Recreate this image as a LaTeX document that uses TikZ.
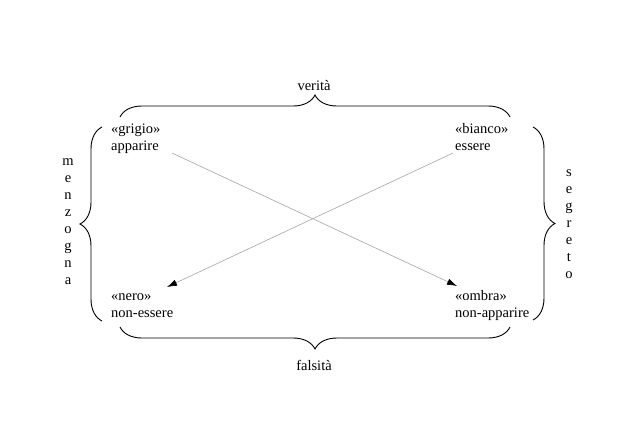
\documentclass[tikz,border=0pt]{standalone}
\usepackage{fontspec}
\setmainfont{Liberation Serif}
\usetikzlibrary{decorations.pathreplacing,arrows.meta}
\begin{document}
\begin{tikzpicture}[x=1pt,y=-1pt,
  every node/.style={inner sep=0pt,font=\fontsize{14.5pt}{17pt}\selectfont},
  corner/.style={align=left,anchor=base west},
  vword/.style={align=center,anchor=center},
  brace/.style={draw=black,line width=0.9pt,decorate,decoration={brace,amplitude=22pt}},
  link/.style={draw={rgb,255:red,165;green,165;blue,165},line width=0.6pt,-{Latex[black,length=10pt,width=6.5pt]}}]
\useasboundingbox (0,0) rectangle (631,421);
% corner labels (anchor = baseline of the last line)
\node[corner] (grigio) at (111,150) {«grigio»\\apparire};
\node[corner] (bianco) at (455,150) {«bianco»\\essere};
\node[corner] (nero) at (111,317) {«nero»\\non-essere};
\node[corner] (ombra) at (455,317) {«ombra»\\non-apparire};
% side labels
\node[anchor=base] (verita) at (314,90) {verità};
\node[anchor=base] (falsita) at (314,370) {falsità};
\node[vword] (menzogna) at (68,222) {m\\e\\n\\z\\o\\g\\n\\a};
\node[vword] (segreto) at (569,224) {s\\e\\g\\r\\e\\t\\o};
% braces
\draw[brace] (120,117) -- (510,117);
\draw[brace] (510,327) -- (120,327);
\draw[brace] (102,321) -- (102,127);
\draw[brace] (533,127) -- (533,320);
% arrow end points
\coordinate (gs) at (172,153);
\coordinate (bs) at (453,153);
\coordinate (ot) at (457,286);
\coordinate (nt) at (167,287);
\draw[link] (gs) -- (ot);
\draw[link] (bs) -- (nt);
\end{tikzpicture}
\end{document}
